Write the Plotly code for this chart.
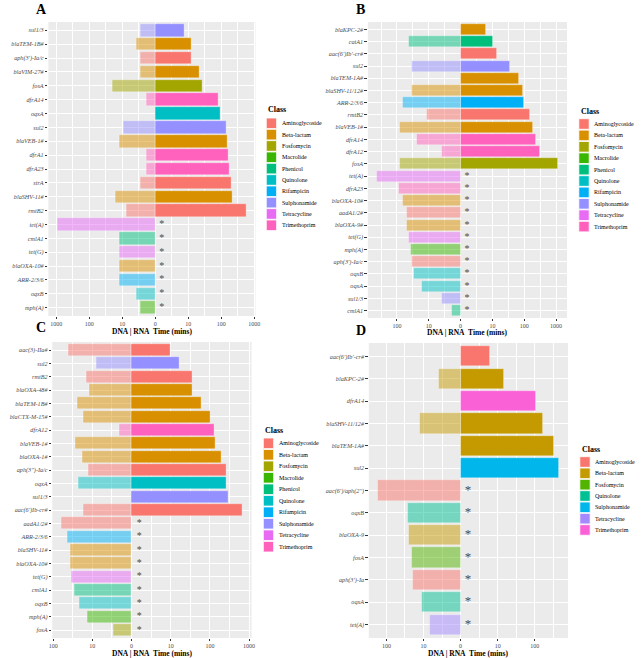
import math
import plotly.graph_objects as go

W, H = 642, 658
FONT = "Liberation Serif"

# ---------------- class palettes ----------------
classes_abc = ["Aminoglycoside", "Beta-lactam", "Fosfomycin", "Macrolide", "Phenicol",
               "Quinolone", "Rifampicin", "Sulphonamide", "Tetracycline", "Trimethoprim"]
colors_abc = ["#F8766D", "#D89000", "#A3A500", "#39B600", "#00BF7D",
              "#00BFC4", "#00B0F6", "#9590FF", "#E76BF3", "#FF62BC"]
classes_d = ["Aminoglycoside", "Beta-lactam", "Fosfomycin", "Quinolone",
             "Sulphonamide", "Tetracycline", "Trimethoprim"]
colors_d = ["#F8766D", "#C49A00", "#53B400", "#00C094", "#00B6EB", "#A58AFF", "#FB61D7"]

# ---------------- data (minutes) ----------------
a_genes = ["sul1/3", "blaTEM-1B#", "aph(3')-Ia/c", "blaVIM-27#", "fosA", "dfrA14", "oqxA", "sul2",
           "blaVEB-1#", "dfrA1", "dfrA23", "strA", "blaSHV-11#", "rmtB2", "tet(A)", "cmlA1",
           "tet(G)", "blaOXA-10#", "ARR-2/3/6", "oqxB", "mph(A)"]
a_class = ["Sulphonamide", "Beta-lactam", "Aminoglycoside", "Beta-lactam", "Fosfomycin", "Trimethoprim",
           "Quinolone", "Sulphonamide", "Beta-lactam", "Trimethoprim", "Trimethoprim", "Aminoglycoside",
           "Beta-lactam", "Aminoglycoside", "Tetracycline", "Phenicol", "Tetracycline", "Beta-lactam",
           "Rifampicin", "Quinolone", "Macrolide"]
a_dna = [1.8, 2.8, 1.8, 1.8, 19, 0.9, None, 8.3, 11, 0.9, 0.9, 1.8, 15.6, 6.4, 890, 11, 11, 11, 11, 2.8, 1.8]
a_rna = [6.6, 11.6, 11.6, 20.9, 26, 78, 95, 143, 147, 169, 181, 198, 213, 561,
         None, None, None, None, None, None, None]

b_genes = ["blaKPC-2#", "catA1", "aac(6')Ib'-cr#", "sul2", "blaTEM-1A#", "blaSHV-11/12#", "ARR-2/3/6",
           "rmtB2", "blaVEB-1#", "dfrA14", "dfrA12", "fosA", "tet(A)", "dfrA23", "blaOXA-10#", "aadA1/2#",
           "blaOXA-9#", "tet(G)", "mph(A)", "aph(3')-Ia/c", "oqxB", "oqxA", "sul1/3", "cmlA1"]
b_class = ["Beta-lactam", "Phenicol", "Aminoglycoside", "Sulphonamide", "Beta-lactam", "Beta-lactam",
           "Rifampicin", "Aminoglycoside", "Beta-lactam", "Trimethoprim", "Trimethoprim", "Fosfomycin",
           "Tetracycline", "Trimethoprim", "Beta-lactam", "Aminoglycoside", "Beta-lactam", "Tetracycline",
           "Macrolide", "Aminoglycoside", "Quinolone", "Quinolone", "Sulphonamide", "Phenicol"]
b_dna = [None, 40.7, None, 32.9, None, 32.9, 65.1, 10.5, 82.2, 23, 2.9, 80.3, 426, 86, 63.6, 48,
         46.9, 41.7, 36.2, 32.9, 27.8, 15.2, 2.9, 0.95]
b_rna = [5.0, 9, 12.8, 33.7, 68.2, 92.3, 96.7, 154, 181, 239, 315, 1147,
         None, None, None, None, None, None, None, None, None, None, None, None]

c_genes = ["aac(3)-IIa#", "sul2", "rmtB2", "blaOXA-48#", "blaTEM-1B#", "blaCTX-M-15#", "dfrA12",
           "blaVEB-1#", "blaOXA-1#", "aph(3'')-Ia/c", "oqxA", "sul1/3", "aac(6')Ib-cr#", "aadA1/2#",
           "ARR-2/3/6", "blaSHV-11#", "blaOXA-10#", "tet(G)", "cmlA1", "oqxB", "mph(A)", "fosA"]
c_class = ["Aminoglycoside", "Sulphonamide", "Aminoglycoside", "Beta-lactam", "Beta-lactam", "Beta-lactam",
           "Trimethoprim", "Beta-lactam", "Beta-lactam", "Aminoglycoside", "Quinolone", "Sulphonamide",
           "Aminoglycoside", "Aminoglycoside", "Rifampicin", "Beta-lactam", "Beta-lactam", "Tetracycline",
           "Phenicol", "Quinolone", "Macrolide", "Fosfomycin"]
c_dna = [39.7, 7.1, 13.1, 11, 23, 16, 1.0, 25.9, 17.2, 11.9, 21.9, None, 16, 60.7, 41.7, 36.2, 36.2,
         32.9, 27.2, 20.4, 12.2, 2.0]
c_rna = [9, 15.2, 34.5, 34.5, 57.9, 104, 128, 134, 190, 262, 262, 301, 675,
         None, None, None, None, None, None, None, None, None]

d_genes = ["aac(6')Ib'-cr#", "blaKPC-2#", "dfrA14", "blaSHV-11/12#", "blaTEM-1A#", "sul2",
           "aac(6')/aph(2'')", "oqxB", "blaOXA-9", "fosA", "aph(3')-Ia", "oqxA", "tet(A)"]
d_class = ["Aminoglycoside", "Beta-lactam", "Trimethoprim", "Beta-lactam", "Beta-lactam", "Sulphonamide",
           "Aminoglycoside", "Quinolone", "Beta-lactam", "Fosfomycin", "Aminoglycoside", "Quinolone",
           "Tetracycline"]
d_dna = [None, 2.8, None, 11.6, None, None, 169, 24.7, 23.5, 19.9, 18.5, 10.2, 5.6]
d_rna = [5.3, 13.8, 106, 161, 315, 446, None, None, None, None, None, None, None]

tick_vals = [-3, -2, -1, 0, 1, 2, 3]
tick_text = ["1000", "100", "10", "0", "10", "100", "1000"]
minor_vals = [-2.5, -1.5, -0.5, 0.5, 1.5, 2.5]
x_title = "DNA | RNA\u00a0 Time (mins)"


def tr(t):
    return math.log10(1 + t)


def rgba(hexc, a):
    h = hexc.lstrip("#")
    return "rgba(%d,%d,%d,%s)" % (int(h[0:2], 16), int(h[2:4], 16), int(h[4:6], 16), a)


def px_x(p):
    return p / W


def px_y(p):
    return 1 - p / H


panels = [
    dict(letter="A", genes=a_genes, cls=a_class, dna=a_dna, rna=a_rna, classes=classes_abc,
         colors=colors_abc, dom_x=(45, 255), dom_y=(22, 316), letter_pos=(38, 10), title_y=331.5,
         leg=dict(x=266, title_y=110, first=123.3, step=11.33), star=10),
    dict(letter="B", genes=b_genes, cls=b_class, dna=b_dna, rna=b_rna, classes=classes_abc,
         colors=colors_abc, dom_x=(369, 571), dom_y=(22, 318), letter_pos=(362, 9), title_y=332,
         leg=dict(x=583, title_y=111.5, first=124, step=11.4), star=10),
    dict(letter="C", genes=c_genes, cls=c_class, dna=c_dna, rna=c_rna, classes=classes_abc,
         colors=colors_abc, dom_x=(49, 251), dom_y=(342, 638), letter_pos=(38, 327), title_y=653.5,
         leg=dict(x=263, title_y=430, first=443.3, step=11.49), star=10),
    dict(letter="D", genes=d_genes, cls=d_class, dna=d_dna, rna=d_rna, classes=classes_d,
         colors=colors_d, dom_x=(370, 572), dom_y=(343, 638), letter_pos=(362, 330), title_y=653.5,
         leg=dict(x=584, title_y=449, first=462, step=11.33), star=13),
]

fig = go.Figure()
annotations = []
shapes = []
layout_axes = {}

for i, p in enumerate(panels, start=1):
    xa = "x" if i == 1 else "x%d" % i
    ya = "y" if i == 1 else "y%d" % i
    cmap = dict(zip(p["classes"], p["colors"]))
    genes = p["genes"]

    dna_x = [(-tr(v) if v is not None else None) for v in p["dna"]]
    rna_x = [(tr(v) if v is not None else None) for v in p["rna"]]

    fig.add_trace(go.Bar(
        x=dna_x, y=genes, orientation="h", width=0.9,
        marker=dict(color=[rgba(cmap[c], 0.5) for c in p["cls"]],
                    line=dict(color="rgba(255,255,255,0.6)", width=0.5)),
        xaxis=xa, yaxis=ya, showlegend=False, hoverinfo="skip"))
    fig.add_trace(go.Bar(
        x=rna_x, y=genes, orientation="h", width=0.9,
        marker=dict(color=[cmap[c] for c in p["cls"]],
                    line=dict(color="rgba(255,255,255,0.6)", width=0.5)),
        xaxis=xa, yaxis=ya, showlegend=False, hoverinfo="skip"))

    star_genes = [g for g, r in zip(genes, p["rna"]) if r is None]
    fig.add_trace(go.Scatter(
        x=[0.2] * len(star_genes), y=star_genes, mode="text", text=["*"] * len(star_genes),
        textposition="middle center",
        textfont=dict(family=FONT, size=p["star"], color="#4D4D4D"),
        xaxis=xa, yaxis=ya, showlegend=False, hoverinfo="skip"))

    vals = [v for v in dna_x + rna_x if v is not None] + [0]
    lo, hi = min(vals), max(vals)
    pad = 0.05 * (hi - lo)
    n = len(genes)

    layout_axes["xaxis" if i == 1 else "xaxis%d" % i] = dict(
        domain=[px_x(p["dom_x"][0]), px_x(p["dom_x"][1])],
        anchor=ya, range=[lo - pad, hi + pad],
        tickmode="array", tickvals=tick_vals, ticktext=tick_text,
        tickfont=dict(family=FONT, size=6, color="#4D4D4D"),
        ticks="outside", ticklen=1.5, tickwidth=0.6, tickcolor="#333333",
        showgrid=True, gridcolor="white", gridwidth=1, zeroline=False, showline=False,
        minor=dict(tickvals=minor_vals, showgrid=True, gridcolor="white", gridwidth=0.5, ticks=""),
        fixedrange=True)
    layout_axes["yaxis" if i == 1 else "yaxis%d" % i] = dict(
        domain=[px_y(p["dom_y"][1]), px_y(p["dom_y"][0])],
        anchor=xa, type="category", categoryorder="array",
        categoryarray=list(reversed(genes)), range=[-0.6, n - 0.4],
        tickfont=dict(family=FONT, size=6.2, color="#4D4D4D", style="italic"),
        ticks="outside", ticklen=2.5, tickwidth=0.6, tickcolor="#333333",
        showgrid=True, gridcolor="white", gridwidth=1, zeroline=False, showline=False,
        fixedrange=True)

    # panel letter
    annotations.append(dict(
        x=px_x(p["letter_pos"][0]), y=px_y(p["letter_pos"][1]), xref="paper", yref="paper",
        text="<b>%s</b>" % p["letter"], showarrow=False, xanchor="center", yanchor="middle",
        font=dict(family=FONT, size=14, color="black")))
    # x axis title
    annotations.append(dict(
        x=px_x((p["dom_x"][0] + p["dom_x"][1]) / 2), y=px_y(p["title_y"]), xref="paper", yref="paper",
        text="<b>%s</b>" % x_title, showarrow=False, xanchor="center", yanchor="middle",
        font=dict(family=FONT, size=7.5, color="black")))
    # legend
    lg = p["leg"]
    annotations.append(dict(
        x=px_x(lg["x"]), y=px_y(lg["title_y"]), xref="paper", yref="paper",
        text="<b>Class</b>", showarrow=False, xanchor="left", yanchor="middle",
        font=dict(family=FONT, size=8, color="black")))
    for k, (cname, col) in enumerate(zip(p["classes"], p["colors"])):
        cy = lg["first"] + k * lg["step"]
        shapes.append(dict(
            type="rect", xref="paper", yref="paper",
            x0=px_x(lg["x"]), x1=px_x(lg["x"] + 10.5),
            y0=px_y(cy + 5.3), y1=px_y(cy - 5.3),
            fillcolor=col, line=dict(color="white", width=0.8)))
        annotations.append(dict(
            x=px_x(lg["x"] + 13.5), y=px_y(cy), xref="paper", yref="paper",
            text=cname, showarrow=False, xanchor="left", yanchor="middle",
            font=dict(family=FONT, size=6, color="black")))

fig.update_layout(
    width=W, height=H, autosize=False,
    margin=dict(l=0, r=0, t=0, b=0),
    paper_bgcolor="white", plot_bgcolor="#EBEBEB",
    barmode="overlay", bargap=0,
    showlegend=False,
    font=dict(family=FONT),
    annotations=annotations, shapes=shapes,
    **layout_axes)

fig.write_html("out.html",
               config={"displayModeBar": False},
               post_script="document.body.style.margin='0';document.body.style.overflow='hidden';")
